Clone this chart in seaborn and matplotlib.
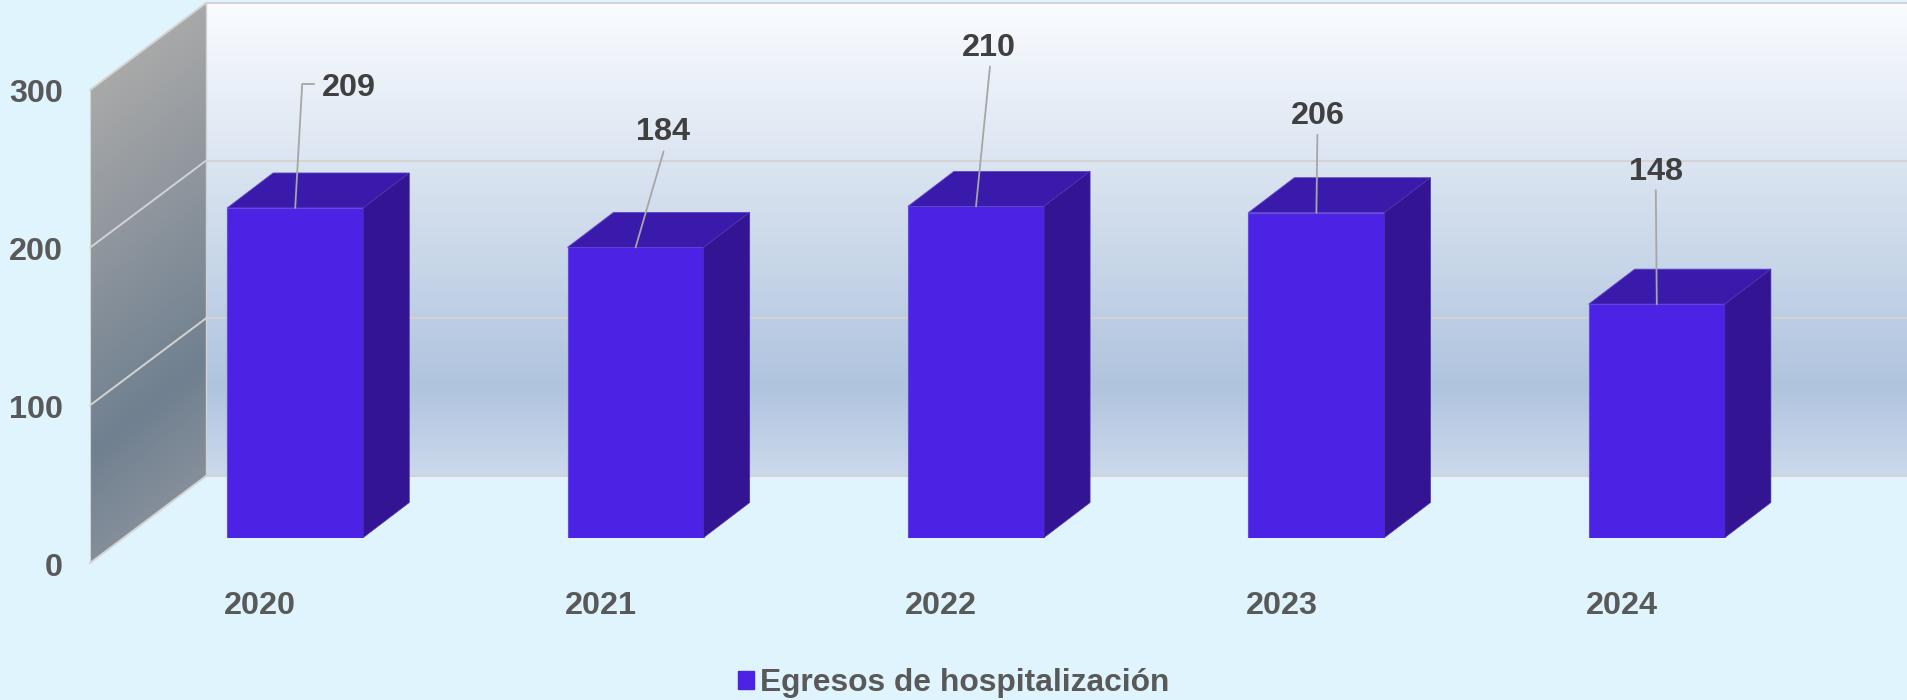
import matplotlib
matplotlib.use("Agg")
import matplotlib.pyplot as plt
import numpy as np
import pandas as pd
import seaborn as sns
from matplotlib.colors import LinearSegmentedColormap
from matplotlib.lines import Line2D
from matplotlib.patches import Patch, Polygon
from matplotlib.transforms import Affine2D, IdentityTransform

# Data
years = ['2020', '2021', '2022', '2023', '2024']
egresos = [209, 184, 210, 206, 148]
y_ticks = [0, 100, 200, 300]
series_name = 'Egresos de hospitalización'

# Leader line bends and label centres, in pixels from the top of each bar
leader_offsets = [[(7, 124), (19, 124)], [(28, 96)], [(14, 140)], [(1, 78)], [(-1, 114)]]
label_offsets = [(54, 120), (27, 115), (13, 158), (1, 97), (-1, 132)]

# Colours
BG = '#DFF4FC'
FRONT = '#4C22E4'
TOP = '#3A1AAB'
SIDE = '#331493'
GRID = '#D3D3D3'
TICK = '#595959'
LABEL = '#404040'

# Pixel layout
W, H = 1908, 700
FRONT_LEFT, FRONT_BOTTOM = 90, 137
PLOT_W, PLOT_H = 1702, 473
WALL_DX, WALL_DY = 116, 87
BAR_SHIFT = (35, 25.5)
BAR_DX, BAR_DY = 46, 35
FS = 23.3

sns.set_style('white')
plt.rcParams['font.family'] = ['Liberation Sans', 'DejaVu Sans']

fig = plt.figure(figsize=(W / 100, H / 100), dpi=100, facecolor=BG)

# Full figure axes in pixels, holds the walls
bg = fig.add_axes([0, 0, 1, 1], zorder=0)
bg.set_axis_off()

# Front plane: scales and tick labels
front = fig.add_axes([FRONT_LEFT / W, FRONT_BOTTOM / H, PLOT_W / W, PLOT_H / H], zorder=1)
front.patch.set_alpha(0)
front.set_xlim(-0.5, 4.5)
front.set_ylim(0, 300)
front.set_xticks(range(len(years)), years)
front.set_yticks(y_ticks)
front.tick_params(axis='both', length=0, labelsize=FS, labelcolor=TICK)
front.tick_params(axis='x', pad=20)
front.tick_params(axis='y', pad=19.5)
for t in front.get_xticklabels():
    t.set_fontweight('bold')
for t in front.get_yticklabels():
    t.set_fontweight('bold')
    t.set_transform(t.get_transform() + Affine2D().translate(0, -1))
sns.despine(ax=front, left=True, bottom=True)

# Back wall gradient
left, bottom = FRONT_LEFT + WALL_DX, FRONT_BOTTOM + WALL_DY
wall_cmap = LinearSegmentedColormap.from_list(
    'wall', [(0, '#FAFCFF'), (0.81, '#B0C4DE'), (1, '#CBD9EB')])
bg.imshow(np.linspace(0, 1, 256).reshape(-1, 1), cmap=wall_cmap, aspect='auto',
          extent=(left, W, bottom, bottom + PLOT_H), zorder=1)

# Side wall gradient, clipped to the wall shape
side_pts = [(FRONT_LEFT, FRONT_BOTTOM), (left, bottom), (left, bottom + PLOT_H),
            (FRONT_LEFT, FRONT_BOTTOM + PLOT_H)]
xx, yy = np.meshgrid(np.linspace(FRONT_LEFT, left, 120), np.linspace(H - 3, 137, 560))
t = (0.62 * xx + 0.78 * (H - yy) - 125) / 375
side_cmap = LinearSegmentedColormap.from_list(
    'side', [(0, '#A9A9A9'), (0.76, '#708090'), (1, '#868F9B')])
side_img = bg.imshow(t, cmap=side_cmap, vmin=0, vmax=1, aspect='auto',
                     extent=(FRONT_LEFT, left, 137, H - 3), zorder=1)
clip = Polygon(side_pts, transform=bg.transData, fc='none', ec='none')
bg.add_patch(clip)
side_img.set_clip_path(clip)

# Grid lines on both walls
for v in y_ticks:
    px, py = front.transData.transform((-0.5, v))
    bg.plot([px, px + WALL_DX], [py, py + WALL_DY], color=GRID, lw=1.4, zorder=2)
    bg.plot([px + WALL_DX, W], [py + WALL_DY, py + WALL_DY], color=GRID, lw=1.4, zorder=2)
bg.plot([left, left], [bottom, bottom + PLOT_H], color=GRID, lw=1, zorder=2)
bg.plot([FRONT_LEFT, FRONT_LEFT], [FRONT_BOTTOM, FRONT_BOTTOM + PLOT_H], color=GRID, lw=0.8, zorder=2)
bg.set_xlim(0, W)
bg.set_ylim(0, H)

# Bars sit a bit deeper than the front plane
ax = fig.add_axes([(FRONT_LEFT + BAR_SHIFT[0]) / W, (FRONT_BOTTOM + BAR_SHIFT[1]) / H,
                   PLOT_W / W, PLOT_H / H], zorder=2)
df = pd.DataFrame({'year': years, 'egresos': egresos})
sns.barplot(data=df, x='year', y='egresos', color=FRONT, saturation=1, width=0.4, ax=ax,
            edgecolor='#6A48F0', linewidth=0.8)
ax.set_xlim(-0.5, 4.5)
ax.set_ylim(0, 300)
ax.set_axis_off()

# Top and side faces from the drawn bars
for bar in ax.patches:
    x0, x1 = bar.get_x(), bar.get_x() + bar.get_width()
    (lx, by), (rx, ty) = ax.transData.transform([(x0, 0), (x1, bar.get_height())])
    top_face = [(lx, ty), (rx, ty), (rx + BAR_DX, ty + BAR_DY), (lx + BAR_DX, ty + BAR_DY)]
    side_face = [(rx, by), (rx + BAR_DX, by + BAR_DY), (rx + BAR_DX, ty + BAR_DY), (rx, ty)]
    ax.add_patch(Polygon(top_face, transform=IdentityTransform(), fc=TOP, ec='#5F48C8',
                         lw=0.6, clip_on=False, zorder=1))
    ax.add_patch(Polygon(side_face, transform=IdentityTransform(), fc=SIDE, ec='#4A30A8',
                         lw=0.5, clip_on=False, zorder=1))

# Value labels with leader lines
for i, v in enumerate(egresos):
    cx, cy = ax.transData.transform((i, v))
    pts = [(cx, cy)] + [(cx + a, cy + b) for a, b in leader_offsets[i]]
    ax.add_line(Line2D([p[0] for p in pts], [p[1] for p in pts], transform=IdentityTransform(),
                       color='#A6A6A6', lw=1.3, clip_on=False, zorder=4))
    ax.annotate(str(v), xy=(i, v), xytext=label_offsets[i], textcoords='offset pixels',
                ha='center', va='center', fontsize=FS, fontweight='bold', color=LABEL,
                annotation_clip=False, zorder=5)

# Legend
fig.legend(handles=[Patch(color=FRONT, label=series_name)], loc='center',
           bbox_to_anchor=(954 / W, 16.5 / H), frameon=False, prop={'size': 22.9, 'weight': 'bold'},
           labelcolor=TICK, handlelength=0.5, handleheight=0.5, handletextpad=0.2,
           borderpad=0)

fig.savefig('out.png', dpi=100, facecolor=BG)
